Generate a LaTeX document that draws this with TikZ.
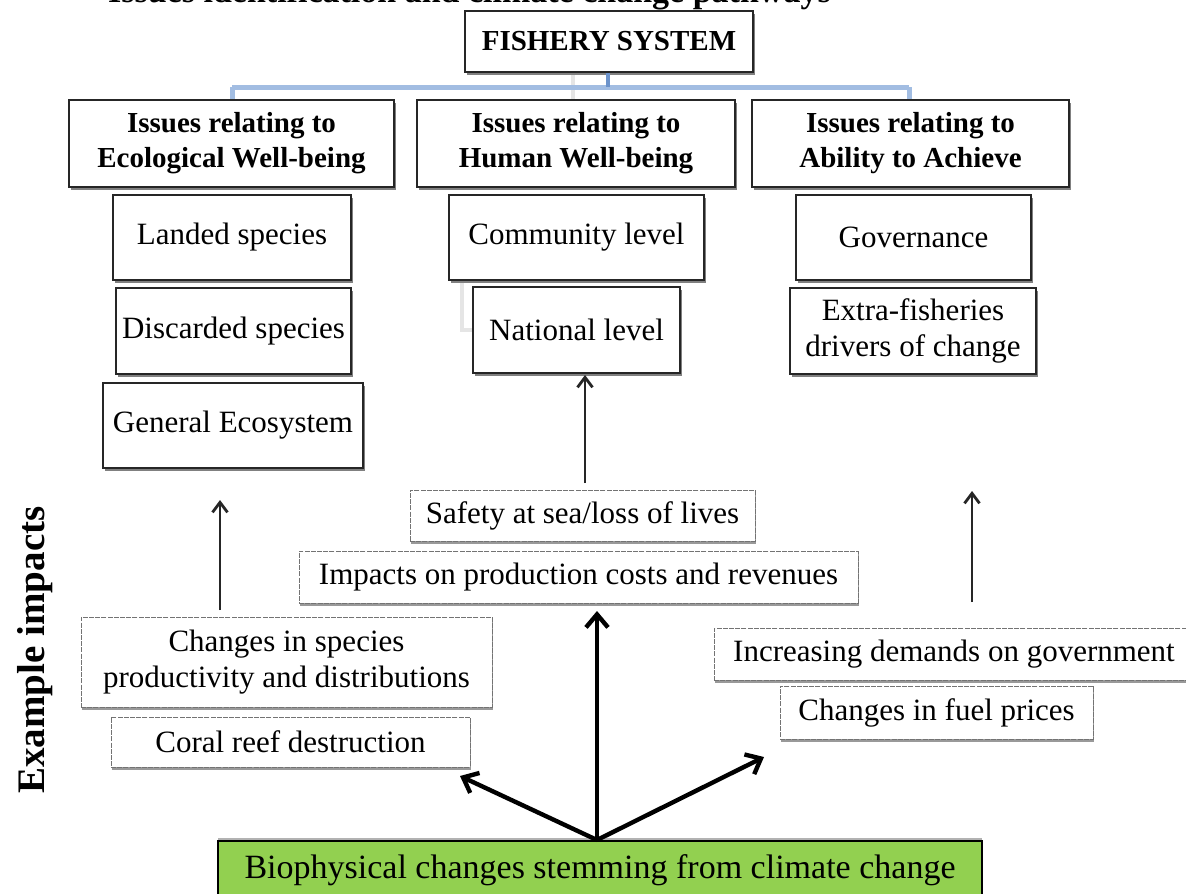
\documentclass[tikz,border=0pt]{standalone}
\usepackage{fontspec}
\setmainfont{Liberation Serif}
\usetikzlibrary{arrows.meta,shadows}
\newcommand\myBody{\fontsize{31}{36}\selectfont}
\newcommand\myHead{\bfseries\fontsize{29}{35}\selectfont}
\definecolor{conblue}{HTML}{A2BDE2}
\definecolor{darkblue}{HTML}{6C93CB}
\definecolor{leafgreen}{HTML}{92D050}
\tikzset{
  boxshadow/.style={drop shadow={shadow xshift=1.6pt,shadow yshift=-3pt,fill=black!50,opacity=1}},
  solidbox/.style={draw=black!85,line width=1.4pt,fill=white,inner sep=2pt,align=center,font=\myBody,boxshadow},
  headbox/.style={solidbox,font=\myHead},
  dashbox/.style={draw=black!55,line width=1pt,dash pattern=on 5pt off 1.2pt,fill=white,inner sep=2pt,align=center,font=\myBody,
    drop shadow={shadow xshift=1.2pt,shadow yshift=-2.6pt,fill=black!40,opacity=1}},
  greenbox/.style={draw=black,line width=2.8pt,fill=leafgreen,inner sep=2pt,font=\fontsize{34}{40}\selectfont,
    drop shadow={shadow xshift=0pt,shadow yshift=2.8pt,fill=black!30,opacity=1}},
  thinarrow/.style={draw=black!85,line width=2.6pt,-{Straight Barb[length=10pt,width=15pt,line width=2.8pt]}},
  boldarrow/.style={draw=black,line width=4.4pt,-{Straight Barb[length=13pt,width=22pt,line width=4.4pt]}},
  blueline/.style={draw=conblue,line width=5pt},
  faintline/.style={draw=black!10,line width=4pt},
}
\begin{document}
\begin{tikzpicture}[x=1pt,y=-1pt]
\useasboundingbox (0,0) rectangle (1186,894);
\clip (0,0) rectangle (1186,894);
\fill[white] (0,0) rectangle (1186,894);

% cut-off title (only its lower edge shows, as in the reference)
\node[anchor=base west,inner sep=0,font=\bfseries\fontsize{34}{40}\selectfont] (title) at (108,2.5) {Issues identification and climate change pathways};

% connectors at top (drawn first, behind boxes)
\coordinate (bl) at (232,87);
\coordinate (br) at (909,87);
\coordinate (bm) at (608,87);
\coordinate (bld) at (232,101);
\coordinate (brd) at (909,101);
\coordinate (fm) at (573,72);
\coordinate (fmd) at (573,101);
\draw[faintline] (fm) -- (fmd);
\draw[blueline] (bl) -- (br);
\draw[blueline] (bl) -- (bld);
\draw[blueline] (br) -- (brd);
\coordinate (hk1) at (462,280);
\coordinate (hk2) at (462,330);
\coordinate (hk3) at (474,330);
\draw[faintline] (hk1) -- (hk2) -- (hk3);

% top box
\node[headbox,minimum width=288pt,minimum height=61pt] (fish) at (609,41.5) {FISHERY SYSTEM};
\draw[draw=darkblue,line width=3.2pt] (fish.south -| bm) -- (bm);

% headers
\node[headbox,minimum width=325pt,minimum height=87pt] (h1) at (231.5,143.5) {Issues relating to\\Ecological Well-being};
\node[headbox,minimum width=318pt,minimum height=87pt] (h2) at (576,143.5) {Issues relating to\\Human Well-being};
\node[headbox,minimum width=317pt,minimum height=87pt] (h3) at (910.5,143.5) {Issues relating to\\Ability to Achieve};

% sub boxes
\node[solidbox,minimum width=238pt,minimum height=85pt] (land) at (232,237.5) {Landed species};
\node[solidbox,minimum width=235pt,minimum height=86pt] (disc) at (233.5,331) {Discarded species};
\node[solidbox,minimum width=260pt,minimum height=85pt] (gen) at (233,425.5) {General Ecosystem};
\node[solidbox,minimum width=255pt,minimum height=85pt] (comm) at (576.5,237.5) {Community level};
\node[solidbox,minimum width=207pt,minimum height=86pt] (nat) at (576.5,330) {National level};
\node[solidbox,minimum width=235pt,minimum height=85pt] (gov) at (913.5,237.5) {Governance};
\node[solidbox,minimum width=246pt,minimum height=86pt] (extra) at (913,331) {Extra-fisheries\\drivers of change};

% impact boxes
\node[dashbox,minimum width=345pt,minimum height=51pt] (safety) at (582.5,515.5) {Safety at sea/loss of lives};
\node[dashbox,minimum width=559pt,minimum height=52pt] (impacts) at (578.5,577) {Impacts on production costs and revenues};
\node[dashbox,minimum width=411pt,minimum height=90pt] (chsp) at (286.5,662) {Changes in species\\productivity and distributions};
\node[dashbox,minimum width=359pt,minimum height=50pt] (coral) at (290.5,742) {Coral reef destruction};
\node[dashbox,minimum width=480pt,minimum height=52pt] (incr) at (954,654) {Increasing demands on government};
\node[dashbox,minimum width=313pt,minimum height=53pt] (fuel) at (936.5,712.5) {Changes in fuel prices};

% source box
\node[greenbox,minimum width=764pt,minimum height=58pt] (green) at (600,870) {Biophysical changes stemming from climate change};

% side label
\node[rotate=90,font=\bfseries\fontsize{39}{42}\selectfont,inner sep=0] (ex) at (35,650) {Example impacts};

% thin arrows
\coordinate (a1s) at (220,610);
\coordinate (a1e) at (220,500);
\coordinate (a2s) at (585,483);
\coordinate (a2e) at (585,375);
\coordinate (a3s) at (972,602);
\coordinate (a3e) at (972,491);
\draw[thinarrow] (a1s) -- (a1e);
\draw[thinarrow] (a2s) -- (a2e);
\draw[thinarrow] (a3s) -- (a3e);

% bold arrows
\coordinate (src) at (597,840);
\coordinate (tl) at (460,776);
\coordinate (tm) at (597,611);
\coordinate (tr) at (764,757);
\draw[boldarrow] (src) -- (tl);
\draw[boldarrow] (src) -- (tm);
\draw[boldarrow] (src) -- (tr);
\end{tikzpicture}
\end{document}
